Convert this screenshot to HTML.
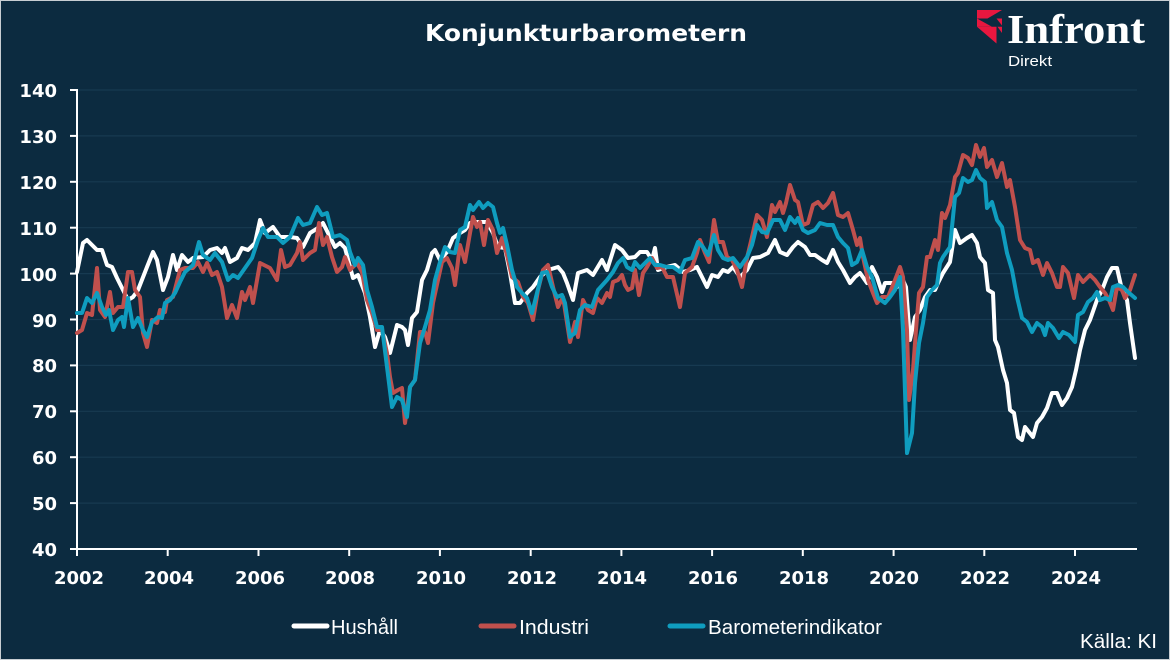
<!DOCTYPE html>
<html>
<head>
<meta charset="utf-8">
<style>
html,body{margin:0;padding:0;background:#0c2b40;}
svg{display:block;}
</style>
</head>
<body>
<svg width="1170" height="660" viewBox="0 0 1170 660" xmlns="http://www.w3.org/2000/svg">
<rect x="0" y="0" width="1170" height="660" fill="#0c2b40"/>
<!-- thin border -->
<rect x="0.5" y="0.5" width="1169" height="659" fill="none" stroke="#c8ced3" stroke-width="1"/>

<!-- title -->
<text x="586" y="41" text-anchor="middle" font-family="'DejaVu Sans','Liberation Sans',sans-serif" font-weight="bold" font-size="23" fill="#ffffff" textLength="322" lengthAdjust="spacingAndGlyphs">Konjunkturbarometern</text>

<!-- logo -->
<g fill="#e8173f">
<polygon points="977,10 1002,10 987.5,18.5 977,18.5"/>
<polygon points="977,18.5 992,26.7 977,26.7"/>
<polygon points="996.5,18.5 1002,18.5 1002,25.5"/>
<polygon points="977,26.7 996.5,26.7 996.5,43.5"/>
<polygon points="997.5,26.7 1002,26.7 1002,33"/>
</g>
<text x="1007" y="43" font-family="'Liberation Serif',serif" font-weight="bold" font-size="41" fill="#ffffff" textLength="138" lengthAdjust="spacingAndGlyphs">Infront</text>
<text x="1008" y="66" font-family="'Liberation Sans',sans-serif" font-size="15" fill="#ffffff" textLength="44" lengthAdjust="spacingAndGlyphs">Direkt</text>

<!-- gridlines -->
<g stroke="#173a51" stroke-width="1.2">
<line x1="78" y1="90" x2="1137" y2="90"/>
<line x1="78" y1="135.9" x2="1137" y2="135.9"/>
<line x1="78" y1="181.8" x2="1137" y2="181.8"/>
<line x1="78" y1="227.7" x2="1137" y2="227.7"/>
<line x1="78" y1="273.6" x2="1137" y2="273.6"/>
<line x1="78" y1="319.5" x2="1137" y2="319.5"/>
<line x1="78" y1="365.4" x2="1137" y2="365.4"/>
<line x1="78" y1="411.3" x2="1137" y2="411.3"/>
<line x1="78" y1="457.2" x2="1137" y2="457.2"/>
<line x1="78" y1="503.1" x2="1137" y2="503.1"/>
</g>

<!-- axes -->
<g stroke="#ffffff" stroke-width="2">
<line x1="77" y1="89" x2="77" y2="550"/>
<line x1="76" y1="549" x2="1137" y2="549"/>
<line x1="70" y1="90" x2="77" y2="90"/>
<line x1="70" y1="135.9" x2="77" y2="135.9"/>
<line x1="70" y1="181.8" x2="77" y2="181.8"/>
<line x1="70" y1="227.7" x2="77" y2="227.7"/>
<line x1="70" y1="273.6" x2="77" y2="273.6"/>
<line x1="70" y1="319.5" x2="77" y2="319.5"/>
<line x1="70" y1="365.4" x2="77" y2="365.4"/>
<line x1="70" y1="411.3" x2="77" y2="411.3"/>
<line x1="70" y1="457.2" x2="77" y2="457.2"/>
<line x1="70" y1="503.1" x2="77" y2="503.1"/>
<line x1="70" y1="549" x2="77" y2="549"/>
<line x1="77" y1="549" x2="77" y2="556"/>
<line x1="167.7" y1="549" x2="167.7" y2="556"/>
<line x1="258.5" y1="549" x2="258.5" y2="556"/>
<line x1="349.2" y1="549" x2="349.2" y2="556"/>
<line x1="439.9" y1="549" x2="439.9" y2="556"/>
<line x1="530.7" y1="549" x2="530.7" y2="556"/>
<line x1="621.4" y1="549" x2="621.4" y2="556"/>
<line x1="712.1" y1="549" x2="712.1" y2="556"/>
<line x1="802.8" y1="549" x2="802.8" y2="556"/>
<line x1="893.6" y1="549" x2="893.6" y2="556"/>
<line x1="984.3" y1="549" x2="984.3" y2="556"/>
<line x1="1075" y1="549" x2="1075" y2="556"/>
</g>

<!-- y labels -->
<g font-family="'DejaVu Sans','Liberation Sans',sans-serif" font-weight="bold" font-size="18" fill="#ffffff" text-anchor="end">
<text x="57" y="97">140</text>
<text x="57" y="143">130</text>
<text x="57" y="189">120</text>
<text x="57" y="235">110</text>
<text x="57" y="281">100</text>
<text x="57" y="327">90</text>
<text x="57" y="372">80</text>
<text x="57" y="418">70</text>
<text x="57" y="464">60</text>
<text x="57" y="510">50</text>
<text x="57" y="556">40</text>
</g>

<!-- x labels -->
<g font-family="'DejaVu Sans','Liberation Sans',sans-serif" font-weight="bold" font-size="18" fill="#ffffff" text-anchor="middle">
<text x="79" y="584">2002</text>
<text x="169" y="584">2004</text>
<text x="260" y="584">2006</text>
<text x="350" y="584">2008</text>
<text x="441" y="584">2010</text>
<text x="532" y="584">2012</text>
<text x="622" y="584">2014</text>
<text x="713" y="584">2016</text>
<text x="804" y="584">2018</text>
<text x="894" y="584">2020</text>
<text x="985" y="584">2022</text>
<text x="1076" y="584">2024</text>
</g>

<!-- series -->
<g fill="none" stroke-width="4" stroke-linejoin="round" stroke-linecap="round">
<polyline stroke="#ffffff" points="77,272 83,243 87,240 97,250 102,250 107,265 112,267 117,278 123,290 128,300 133,297 138,290 147,267 153,252 157,260 163,290 168,277 173,255 177,270 182,255 188,262 193,258 203,257 210,250 217,248 222,253 225,248 230,262 237,258 242,248 248,250 255,243 260,220 265,233 273,227 280,237 290,237 297,238 303,247 310,233 318,228 323,223 328,233 335,247 340,243 345,248 353,278 358,275 365,293 370,317 375,347 380,330 385,337 390,353 397,325 402,327 405,330 408,345 412,318 417,312 422,280 427,270 432,253 435,250 440,260 447,252 453,238 460,233 465,230 470,223 477,222 487,222 493,233 498,247 505,248 510,273 515,303 520,303 527,293 533,287 540,277 548,270 558,267 563,273 567,283 573,300 578,273 587,270 593,275 602,260 607,270 615,245 622,250 628,258 635,257 640,252 647,252 652,260 655,248 658,270 667,267 675,265 683,272 690,270 697,267 702,277 707,287 712,275 718,277 723,270 728,272 733,267 740,277 747,270 753,258 760,257 768,253 775,240 780,252 787,255 793,247 798,242 805,247 810,255 815,255 822,260 827,263 833,250 838,262 843,270 850,283 855,277 860,273 867,283 872,267 877,277 882,292 885,283 892,283 897,287 902,278 906,287 910,340 915,317 920,310 925,297 930,290 935,290 938,283 943,273 950,262 955,230 960,243 967,238 972,235 977,243 980,257 985,263 988,290 993,293 995,340 998,347 1003,370 1007,383 1010,410 1014,413 1018,437 1022,440 1025,427 1029,432 1033,437 1037,423 1042,417 1047,408 1052,393 1057,393 1062,405 1067,398 1072,387 1076,370 1080,350 1085,330 1090,320 1097,300 1102,290 1107,277 1112,268 1117,268 1122,290 1127,300 1130,323 1135,358"/>
<polyline stroke="#c0504d" points="77,333 82,330 87,313 92,315 97,268 100,310 105,317 110,292 113,313 118,307 123,307 128,272 132,272 135,290 140,297 143,333 147,347 152,320 157,323 160,310 165,312 167,300 173,297 180,270 185,268 193,268 198,262 203,272 207,263 212,275 217,272 222,287 227,318 232,305 237,318 242,292 245,300 250,287 253,303 260,263 270,268 277,280 281,250 285,267 290,265 297,253 300,242 303,260 310,253 315,250 319,223 323,245 327,237 332,257 337,272 342,267 345,257 350,270 357,263 362,272 367,300 372,313 377,330 382,330 387,353 390,377 393,393 398,390 402,388 405,423 410,387 415,380 420,332 425,332 428,343 433,303 438,280 442,262 447,258 452,268 455,285 460,245 465,262 470,233 473,217 477,227 480,222 484,245 488,220 493,230 497,253 502,238 507,255 512,277 518,282 523,297 528,303 533,320 538,290 543,270 548,265 553,287 558,307 563,297 570,342 575,322 578,337 583,300 588,310 593,313 597,298 602,303 607,293 610,297 613,282 618,280 622,275 625,285 628,290 632,288 635,270 639,295 643,273 647,267 652,258 657,268 662,267 667,277 673,277 680,307 685,273 692,267 697,253 700,240 705,253 709,262 714,220 718,242 723,242 727,257 732,260 737,270 742,287 747,258 752,237 757,215 762,220 767,237 772,205 775,212 780,202 783,213 786,203 790,185 795,200 798,202 803,225 808,223 813,205 818,202 823,208 828,203 833,193 838,215 843,217 848,213 853,230 857,245 860,238 863,257 868,280 873,293 877,303 882,297 888,297 895,280 900,267 903,277 907,330 909,400 913,370 916,330 919,293 923,287 927,257 930,257 935,240 938,250 942,213 945,218 950,205 955,177 958,173 963,155 968,158 972,165 976,145 980,157 984,148 987,167 992,160 997,177 1002,163 1007,187 1010,180 1015,207 1020,240 1025,248 1030,250 1033,263 1038,260 1043,275 1047,263 1052,273 1057,287 1060,287 1063,267 1068,273 1074,298 1078,275 1083,282 1090,275 1095,280 1100,287 1105,293 1109,300 1113,310 1117,287 1122,290 1125,298 1130,290 1135,275"/>
<polyline stroke="#0f9dbf" points="77,313 82,313 87,298 92,303 97,293 102,307 106,315 109,310 113,330 118,320 122,317 124,327 128,298 133,327 138,318 143,330 147,337 152,322 158,317 162,318 165,303 170,300 175,293 180,282 185,272 193,265 199,242 203,255 210,260 215,253 222,262 228,280 233,275 238,278 245,268 252,258 258,240 263,228 268,237 277,237 283,243 290,237 298,218 303,225 310,223 317,207 322,215 327,213 333,237 340,235 347,240 350,252 355,265 358,258 363,265 367,290 372,307 377,327 382,327 387,367 392,407 397,397 402,400 407,417 410,387 415,380 420,343 425,327 430,310 435,280 440,262 445,247 450,252 455,253 460,230 465,227 470,205 473,210 479,202 483,208 488,203 493,207 497,223 500,233 503,228 507,245 512,270 517,287 522,293 527,298 532,313 537,293 542,273 547,272 552,287 557,297 562,295 565,303 570,337 575,333 580,310 585,305 592,307 598,290 607,280 613,272 618,263 623,258 627,267 632,270 635,262 640,268 645,263 650,258 655,265 660,265 667,267 673,267 680,272 685,260 692,258 698,242 703,247 708,255 714,235 718,250 723,258 728,260 733,258 740,267 747,257 752,245 757,225 762,232 767,233 773,220 780,220 785,230 790,217 795,223 798,218 803,230 808,233 815,230 820,223 827,225 833,225 838,237 843,243 848,248 852,265 857,262 862,250 867,267 872,277 878,298 885,303 890,297 895,290 900,277 903,330 907,453 912,433 915,383 919,343 923,323 927,297 932,290 937,285 940,263 943,257 950,247 955,197 959,193 963,178 968,182 972,180 976,170 980,178 985,182 987,208 992,202 997,220 1002,227 1007,253 1012,270 1017,297 1022,318 1027,322 1032,332 1037,323 1042,327 1045,335 1048,323 1053,328 1059,338 1063,332 1069,335 1075,342 1078,315 1083,312 1088,302 1093,298 1097,292 1100,300 1105,298 1110,300 1113,287 1118,285 1123,287 1128,292 1135,298"/>
</g>

<!-- legend -->
<g stroke-width="5" stroke-linecap="round">
<line x1="294" y1="626" x2="327" y2="626" stroke="#ffffff"/>
<line x1="481" y1="626" x2="514" y2="626" stroke="#c0504d"/>
<line x1="670" y1="626" x2="703" y2="626" stroke="#0f9dbf"/>
</g>
<g font-family="'Liberation Sans',sans-serif" font-size="20" fill="#ffffff">
<text x="331" y="634" textLength="67" lengthAdjust="spacingAndGlyphs">Hushåll</text>
<text x="519" y="634" textLength="70" lengthAdjust="spacingAndGlyphs">Industri</text>
<text x="708" y="634" textLength="174" lengthAdjust="spacingAndGlyphs">Barometerindikator</text>
<text x="1080" y="648" textLength="77" lengthAdjust="spacingAndGlyphs">Källa: KI</text>
</g>
</svg>
</body>
</html>
